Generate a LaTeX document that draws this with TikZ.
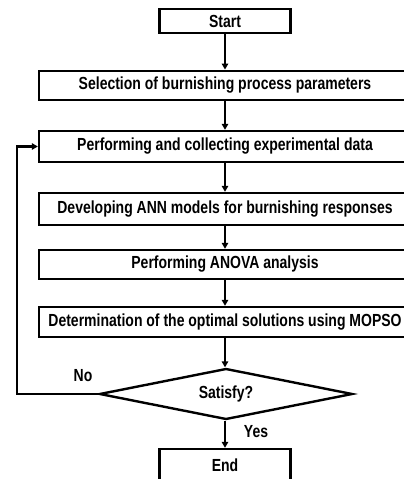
\documentclass[tikz,border=0pt]{standalone}
\usepackage{fontspec}
\setmainfont{Liberation Sans}[FakeStretch=0.80]
\usetikzlibrary{shapes.geometric,arrows.meta}
\begin{document}
\begin{tikzpicture}[x=1pt,y=-1pt,
  box/.style={draw,line width=2.4pt,rectangle,inner sep=0pt,font=\fontsize{17.5}{20}\selectfont\bfseries},
  wide/.style={box,minimum width=372pt},
  small/.style={box,minimum width=131pt},
  arr/.style={line width=2.2pt,-{Triangle[length=6pt,width=6.5pt]}},
  lbl/.style={font=\fontsize{17.5}{20}\selectfont\bfseries,inner sep=0pt}]
\useasboundingbox (0,0) rectangle (404,479);
\clip (0,0) rectangle (404,479);
\node[small,minimum height=24pt] (start) at (225,21) {Start};
\node[wide,minimum height=29.5pt] (sel) at (225,85.5) {Selection of burnishing process parameters};
\node[wide,minimum height=31pt] (perf) at (225,146.5) {Performing and collecting experimental data};
\node[wide,minimum height=32pt] (ann) at (225,209) {Developing ANN models for burnishing responses};
\node[wide,minimum height=29pt] (anova) at (225,264.5) {Performing ANOVA analysis};
\node[wide,minimum height=30pt] (mopso) at (225,322) {Determination of the optimal solutions using MOPSO};
\node[box,diamond,aspect=5,minimum width=253pt,minimum height=51pt] (sat) at (226,394) {Satisfy?};
\node[small,minimum height=32pt] (end) at (225,465) {End};
\coordinate (loop) at (17,394);
\draw[arr] (start.south) -- (sel.north);
\draw[arr] (sel.south) -- (perf.north);
\draw[arr] (perf.south) -- (ann.north);
\draw[arr] (ann.south) -- (anova.north);
\draw[arr] (anova.south) -- (mopso.north);
\draw[arr] (mopso.south) -- (mopso.south |- sat.north);
\draw[arr] (sat.south -| end.north) -- (end.north);
\draw[arr] (sat.west) -- (loop) |- (perf.west);
\node[lbl] (no) at (83,376) {No};
\node[lbl] (yes) at (256,432) {Yes};
\end{tikzpicture}
\end{document}
